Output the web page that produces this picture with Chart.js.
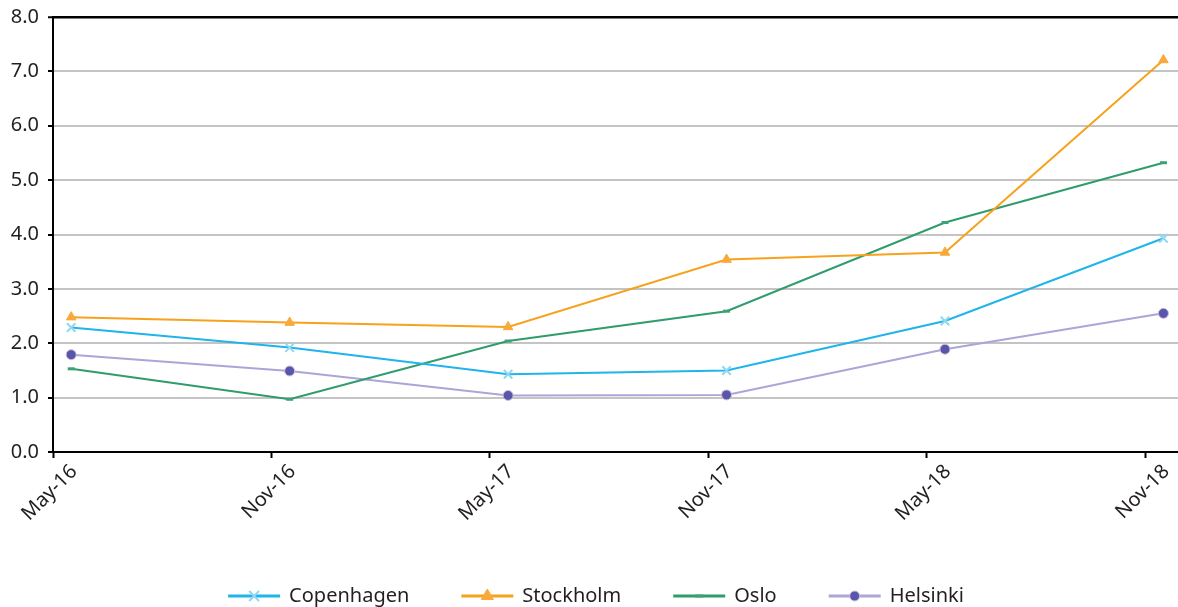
<!DOCTYPE html>
<html>
<head>
<meta charset="utf-8">
<script src="https://cdn.jsdelivr.net/npm/chart.js@4/dist/chart.umd.min.js"></script>
<style>
  html, body { margin: 0; padding: 0; background: #fff; overflow: hidden; }
  #c { display: block; position: absolute; left: 0; top: 0; }
</style>
</head>
<body>
<canvas id="c" width="1178" height="607"></canvas>
<script>
// Half-yearly observation periods
const periods = ['May-16', 'Nov-16', 'May-17', 'Nov-17', 'May-18', 'Nov-18'];
const yTicks = [0, 1, 2, 3, 4, 5, 6, 7, 8];

// Series values per city
const copenhagen = [2.29, 1.92, 1.43, 1.50, 2.41, 3.93];
const stockholm  = [2.48, 2.38, 2.30, 3.54, 3.67, 7.21];
const oslo       = [1.53, 0.97, 2.04, 2.59, 4.22, 5.32];
const helsinki   = [1.79, 1.49, 1.04, 1.05, 1.89, 2.55];

const MONTHS_PER_PERIOD = 6;
// observations fall mid-month, ticks mark the start of the month
const toPoints = vals => vals.map((v, i) => ({ x: i * MONTHS_PER_PERIOD + 0.5, y: v }));

const FONT = '"Noto Sans", "Open Sans", sans-serif';
const TEXT = '#231f20';

const datasets = [
  { label: 'Copenhagen', data: toPoints(copenhagen), borderColor: '#1fb4ea', borderWidth: 2,
    pointStyle: 'crossRot', pointRadius: 6, pointBorderColor: '#8fd8f0', pointBorderWidth: 2,
    pointBackgroundColor: '#8fd8f0', legendRadius: 7 },
  { label: 'Stockholm', data: toPoints(stockholm), borderColor: '#f6a21d', borderWidth: 2,
    pointStyle: 'triangle', pointRadius: 5.5, pointBorderColor: '#f9a83a', pointBorderWidth: 1,
    pointBackgroundColor: '#f9a83a', legendRadius: 7 },
  { label: 'Oslo', data: toPoints(oslo), borderColor: '#2f9c6c', borderWidth: 2,
    pointStyle: 'line', pointRadius: 3.5, pointBorderColor: '#3aa274', pointBorderWidth: 3,
    pointBackgroundColor: '#3aa274', legendRadius: 4 },
  { label: 'Helsinki', data: toPoints(helsinki), borderColor: '#a9a6d8', borderWidth: 2,
    pointStyle: 'circle', pointRadius: 5, pointBorderColor: '#d9b8d8', pointBorderWidth: 1,
    pointBackgroundColor: '#5656aa', legendRadius: 5 }
];
datasets.forEach(d => { d.tension = 0; d.fill = false; d.pointHoverRadius = d.pointRadius; });

// Legend row at the bottom: line sample with marker, then the name
const bottomLegend = {
  id: 'bottomLegend',
  afterDraw(chart) {
    const ctx = chart.ctx;
    const lineLen = 52, gapText = 9, gapItem = 52, y = 596;
    ctx.save();
    ctx.font = '20px ' + FONT;
    const items = chart.data.datasets.map(d => ({ d, w: ctx.measureText(d.label).width }));
    const total = items.reduce((s, it) => s + lineLen + gapText + it.w, 0) + gapItem * (items.length - 1);
    let x = 596 - total / 2;
    items.forEach(({ d, w }) => {
      ctx.strokeStyle = d.borderColor;
      ctx.lineWidth = 3;
      ctx.beginPath();
      ctx.moveTo(x, y);
      ctx.lineTo(x + lineLen, y);
      ctx.stroke();
      ctx.fillStyle = d.pointBackgroundColor;
      ctx.strokeStyle = d.pointBorderColor;
      ctx.lineWidth = d.pointBorderWidth;
      Chart.helpers.drawPoint(ctx, { pointStyle: d.pointStyle, rotation: 0, radius: d.legendRadius, borderWidth: d.pointBorderWidth }, x + lineLen / 2, y);
      ctx.fillStyle = TEXT;
      ctx.textAlign = 'left';
      ctx.textBaseline = 'middle';
      ctx.fillText(d.label, x + lineLen + gapText, y);
      x += lineLen + gapText + w + gapItem;
    });
    ctx.restore();
  }
};

new Chart(document.getElementById('c'), {
  type: 'line',
  data: { datasets },
  plugins: [bottomLegend],
  options: {
    responsive: false,
    animation: false,
    devicePixelRatio: 1,
    layout: { autoPadding: false, padding: { top: 17, right: 0, left: 0, bottom: 0 } },
    plugins: { legend: { display: false }, tooltip: { enabled: false } },
    scales: {
      x: {
        type: 'linear',
        min: 0,
        max: 30.9,
        afterBuildTicks: s => { s.ticks = periods.map((p, i) => ({ value: i * MONTHS_PER_PERIOD })); },
        afterFit: s => { s.height = 155; s.paddingRight = 0; s.paddingLeft = 0; s.paddingTop = 0; s.paddingBottom = 0; },
        border: { display: true, color: '#000', width: 2 },
        grid: { drawOnChartArea: false, drawTicks: true, tickLength: 6, tickColor: '#000', tickWidth: 2 },
        ticks: {
          autoSkip: false, maxRotation: 45, minRotation: 45, padding: 2, labelOffset: 21,
          color: TEXT, font: { family: FONT, size: 20 },
          callback: v => periods[Math.round(v / MONTHS_PER_PERIOD)]
        }
      },
      y: {
        min: 0,
        max: 8,
        afterBuildTicks: s => { s.ticks = yTicks.map(v => ({ value: v })); },
        afterFit: s => { s.width = 53; s.paddingTop = 0; s.paddingBottom = 0; },
        border: { display: true, color: '#000', width: 2 },
        grid: {
          color: c => (c.tick && c.tick.value === 8 ? '#000' : '#c4c4c4'),
          lineWidth: c => (c.tick && c.tick.value === 8 ? 2.5 : 2),
          drawTicks: true, tickLength: 5, tickColor: '#000', tickWidth: 2
        },
        ticks: {
          padding: 9, color: TEXT, font: { family: FONT, size: 20 },
          callback: v => v.toFixed(1)
        }
      }
    }
  }
});
</script>
</body>
</html>
